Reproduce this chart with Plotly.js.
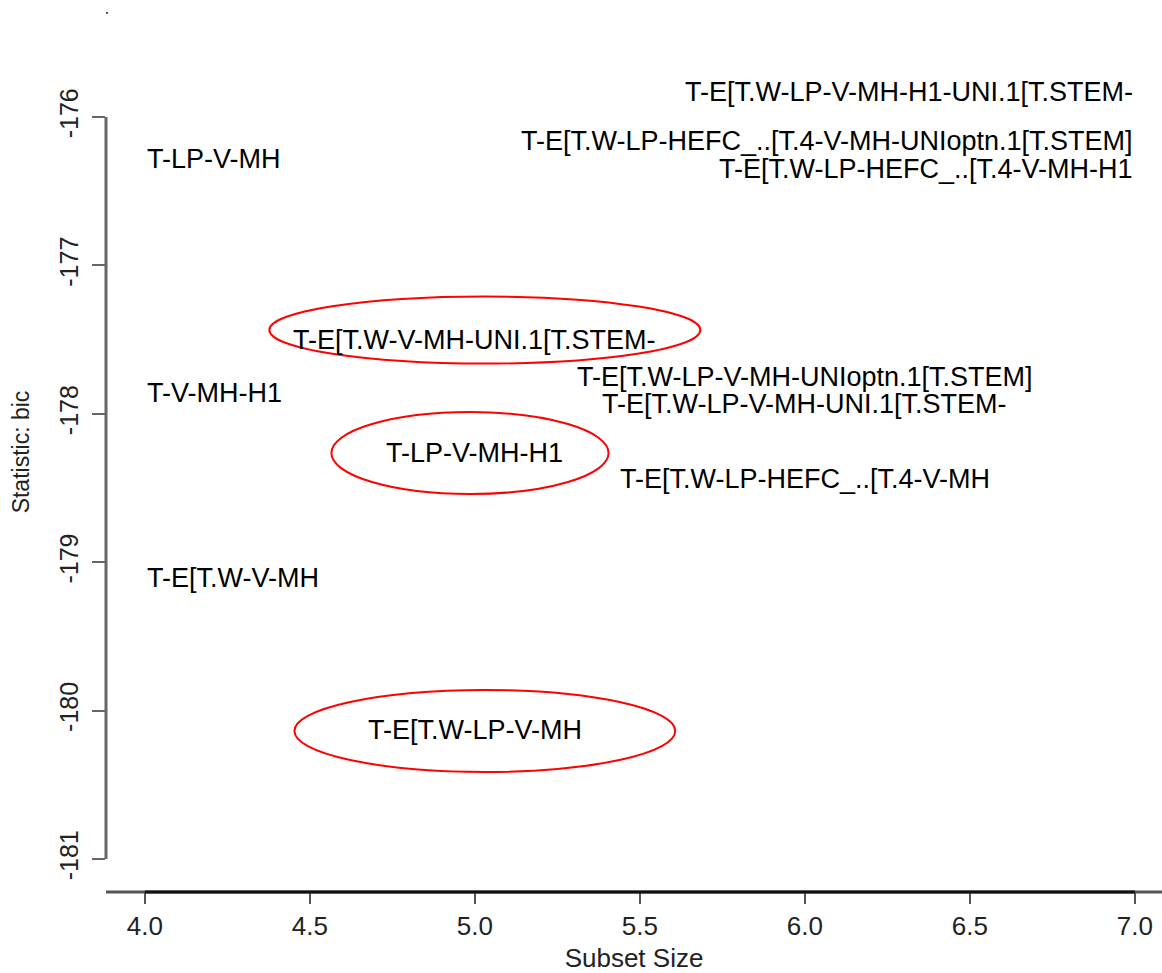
<!DOCTYPE html>
<html>
<head>
<meta charset="utf-8">
<script src="https://cdn.plot.ly/plotly-3.0.1.min.js"></script>
<style>html,body{margin:0;padding:0;background:#fff;}#chart{width:1162px;height:973px;}</style>
</head>
<body>
<div id="chart"></div>
<script>
// Subset size of each model
const subsetSize = [4, 4, 4, 5, 5, 5, 6, 6, 6, 7, 7, 7];
// BIC statistic of each model
const bic = [-176.283, -177.86, -179.106,
             -177.503, -178.264, -180.131,
             -177.752, -177.934, -178.44,
             -175.832, -176.162, -176.35];
// Model labels
const modelLabels = [
  "T-LP-V-MH", "T-V-MH-H1", "T-E[T.W-V-MH",
  "T-E[T.W-V-MH-UNI.1[T.STEM-", "T-LP-V-MH-H1", "T-E[T.W-LP-V-MH",
  "T-E[T.W-LP-V-MH-UNIoptn.1[T.STEM]", "T-E[T.W-LP-V-MH-UNI.1[T.STEM-", "T-E[T.W-LP-HEFC_..[T.4-V-MH",
  "T-E[T.W-LP-V-MH-H1-UNI.1[T.STEM-", "T-E[T.W-LP-HEFC_..[T.4-V-MH-UNIoptn.1[T.STEM]", "T-E[T.W-LP-HEFC_..[T.4-V-MH-H1"
];
// Axis ticks
const xTicks = [4.0, 4.5, 5.0, 5.5, 6.0, 6.5, 7.0];
const xTickText = ["4.0", "4.5", "5.0", "5.5", "6.0", "6.5", "7.0"];
const yTicks = [-176, -177, -178, -179, -180, -181];
const yTickText = ["-176", "-177", "-178", "-179", "-180", "-181"];
// Highlighted (circled) models
const circled = ["T-E[T.W-V-MH-UNI.1[T.STEM-", "T-LP-V-MH-H1", "T-E[T.W-LP-V-MH"];

const FONT = "Liberation Sans, Arial, Helvetica, sans-serif";
const minS = Math.min(...subsetSize), maxS = Math.max(...subsetSize);

const annotations = modelLabels.map((t, i) => ({
  x: subsetSize[i], y: bic[i], xref: 'x', yref: 'y', text: t, showarrow: false,
  xanchor: subsetSize[i] === minS ? 'left' : (subsetSize[i] === maxS ? 'right' : 'center'),
  yanchor: 'middle', font: {family: FONT, size: 27, color: '#000'}
}));

// ellipse styling around circled labels (offsets/half sizes in axis units)
const ellipseStyle = {
  "T-E[T.W-V-MH-UNI.1[T.STEM-": {dx: 0.03, dy: 0.068, rx: 0.653, ry: 0.226},
  "T-LP-V-MH-H1": {dx: -0.015, dy: 0, rx: 0.42, ry: 0.276},
  "T-E[T.W-LP-V-MH": {dx: 0.03, dy: -0.006, rx: 0.577, ry: 0.276}
};
const shapes = [];
circled.forEach(lbl => {
  const i = modelLabels.indexOf(lbl);
  const s = ellipseStyle[lbl];
  const cx = subsetSize[i] + s.dx, cy = bic[i] + s.dy;
  shapes.push({type: 'circle', xref: 'x', yref: 'y', x0: cx - s.rx, x1: cx + s.rx,
    y0: cy - s.ry, y1: cy + s.ry, line: {color: '#ff0000', width: 2}});
});
// axis lines like base R graphics
shapes.push({type: 'line', xref: 'paper', yref: 'paper', x0: 0, x1: 1, y0: 0, y1: 0,
  line: {color: '#555', width: 3}});
shapes.push({type: 'line', xref: 'x', yref: 'paper', x0: xTicks[0], x1: xTicks[xTicks.length-1], y0: 0, y1: 0,
  line: {color: '#111', width: 3}});
shapes.push({type: 'line', xref: 'paper', yref: 'y', x0: 0, x1: 0, y0: yTicks[0], y1: yTicks[yTicks.length-1],
  line: {color: '#666', width: 3}});
shapes.push({type: 'rect', xref: 'paper', yref: 'paper', x0: 0, x1: 0.002, y0: 0.998, y1: 1,
  line: {width: 0}, fillcolor: '#444'});

const trace = {x: subsetSize, y: bic, mode: 'markers', marker: {opacity: 0}, hoverinfo: 'skip', showlegend: false};

const layout = {
  width: 1162, height: 973,
  margin: {l: 106, r: 0, t: 12, b: 81},
  paper_bgcolor: '#fff', plot_bgcolor: '#fff',
  font: {family: FONT, size: 24, color: '#000'},
  xaxis: {range: [3.882, 7.082], tickvals: xTicks, ticktext: xTickText,
    showgrid: false, zeroline: false, showline: false,
    ticks: 'outside', ticklen: 11, tickwidth: 2, tickcolor: '#555',
    tickfont: {family: FONT, size: 26, color: '#222'},
    title: {text: 'Subset Size', font: {family: FONT, size: 26, color: '#222'}, standoff: 16}},
  yaxis: {range: [-181.222, -175.292], tickvals: yTicks, ticktext: yTickText,
    showgrid: false, zeroline: false, showline: false,
    ticks: 'outside', ticklen: 13, tickwidth: 2, tickcolor: '#666', tickangle: -90,
    ticklabelstandoff: 4,
    tickfont: {family: FONT, size: 25, color: '#222'},
    title: {text: 'Statistic: bic', font: {family: FONT, size: 23, color: '#222'}, standoff: 18}},
  annotations: annotations,
  shapes: shapes
};

Plotly.newPlot('chart', [trace], layout, {displayModeBar: false, staticPlot: true});
</script>
</body>
</html>
